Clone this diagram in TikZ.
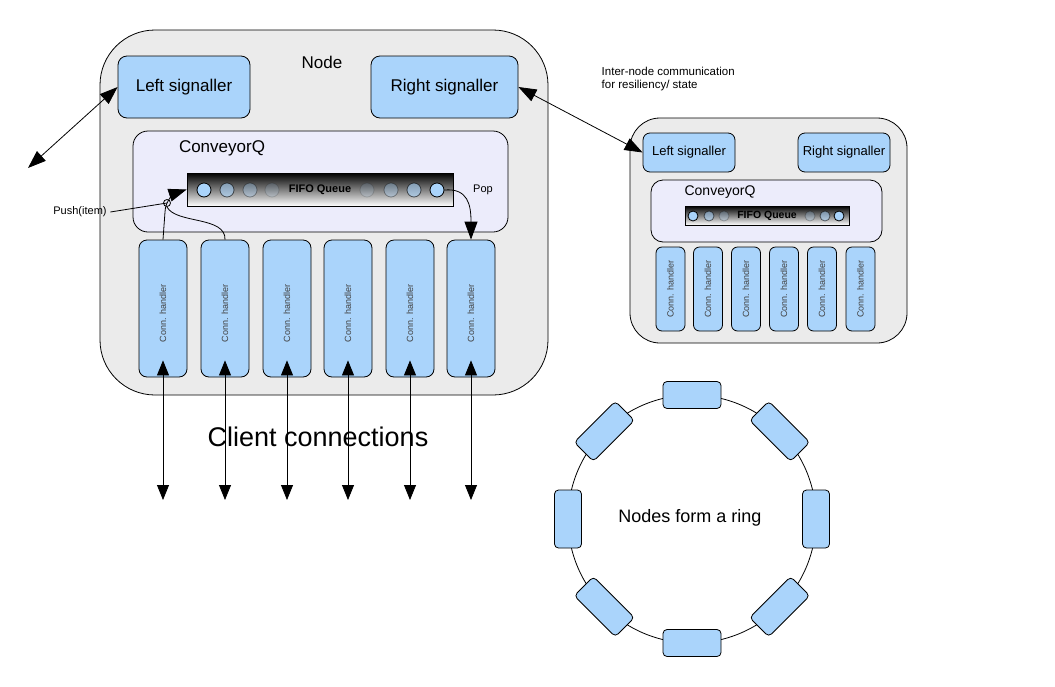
\documentclass[tikz,border=0pt]{standalone}
\usepackage{fontspec}
\setmainfont{Liberation Sans}
\usetikzlibrary{arrows.meta}
\definecolor{lblue}{RGB}{170, 212, 251}
\definecolor{lgray}{RGB}{235, 235, 235}
\definecolor{lviolet}{RGB}{236, 236, 251}

\begin{document}
\begin{tikzpicture}[x = 1pt, y = -1pt, line width = 0.8pt,
		>={Triangle[length=18pt, width=13pt]},
		box/.style = {draw, fill = lblue, rounded corners = 9pt, inner sep = 0pt},
		dot/.style = {circle, draw, fill = lblue, inner sep = 0pt},
		queue/.style = {draw, top color = black, bottom color = white, inner sep = 0pt},
		big/.style = {font = \fontsize{17}{20}\selectfont},
		mid/.style = {font = \fontsize{13}{15}\selectfont},
		small/.style = {font = \fontsize{11}{13}\selectfont},
		htext/.style = {rotate = 90, text = black!75, font = \fontsize{9}{11}\selectfont}]
			\useasboundingbox (0,0) rectangle (1055,686);

			\node (node) at (324,212.5) [draw, fill = lgray, rounded corners = 55pt, minimum width = 448pt, minimum height = 365pt] {};
			\node (title) at (322,62) [big] {Node};
			\node (ls) at (184,87) [box, minimum width = 132pt, minimum height = 62pt, big] {Left signaller};
			\node (rs) at (444.5,87) [box, minimum width = 147pt, minimum height = 62pt, big] {Right signaller};
			\node (cq) at (320.5,181.5) [draw, fill = lviolet, rounded corners = 15pt, minimum width = 375pt, minimum height = 101pt] {};
			\node (cqlbl) at (222,148) [big] {ConveyorQ};
			\node (fifo) at (320,189.5) [queue, minimum width = 266pt, minimum height = 33pt] {};
			\foreach \x/\o [count = \i] in {204/1, 227/0.6, 250/0.35, 272/0.15, 367/0.15, 391/0.35, 414/0.6, 437/1}
				\node (q\i) at (\x,190) [dot, minimum size = 14pt, opacity = \o] {};
			\node (fifolbl) at (320,190) [small, font = \fontsize{11}{13}\selectfont\bfseries] {FIFO Queue};
			\node (pop) at (483,190) [small] {Pop};
			\node (pushlbl) at (80,212) [small] {Push(item)};
			\foreach \x [count = \i] in {163,225,287,348,410,471} {
				\node (h\i) at (\x,308.5) [box, rounded corners = 8pt, minimum width = 48pt, minimum height = 137pt] {};
				\node at ([yshift=-5pt]h\i.center) [htext] {Conn. handler};
				\coordinate (c\i) at (\x,500);
				\draw[<->, >={Triangle[length=15pt, width=12pt]}] ([yshift=17pt]h\i.south) -- (c\i);
			}
			\node (clients) at (318,437) [font = \fontsize{27}{30}\selectfont] {Client connections};

			\coordinate (push) at (167,203);
			\draw[->] (h1.north) -- (165,212) .. controls (165,200) and (176,193) .. (fifo.west);
			\draw (h2.north) .. controls (226,216) and (176,224) .. (167,207);
			\draw (push) circle (3.5);
			\draw (pushlbl.east) -- (push);
			\draw[->] (q8.east) .. controls (468,188) and (471,205) .. (h6.north);

			\coordinate (away) at (28,168);
			\draw[<->] (ls.west) -- (away);

			\node (node2) at (768.5,230.5) [draw, fill = lgray, rounded corners = 30pt, minimum width = 277pt, minimum height = 225pt] {};
			\node (ls2) at (689,152.5) [box, rounded corners = 7pt, minimum width = 92pt, minimum height = 39pt, mid] {Left signaller};
			\node (rs2) at (844,152.5) [box, rounded corners = 7pt, minimum width = 92pt, minimum height = 39pt, mid] {Right signaller};
			\node (cq2) at (766.5,211) [draw, fill = lviolet, rounded corners = 12pt, minimum width = 231pt, minimum height = 62pt] {};
			\node (cqlbl2) at (720,192) [font = \fontsize{14}{16}\selectfont] {ConveyorQ};
			\node (fifo2) at (767,215.5) [queue, minimum width = 164pt, minimum height = 19pt] {};
			\foreach \x/\o [count = \i] in {693/1, 709/0.55, 724/0.25, 810/0.25, 825/0.55, 839/1}
				\node (r\i) at (\x,216) [dot, minimum size = 10pt, opacity = \o] {};
			\node (fifolbl2) at (767,216) [font = \fontsize{10.5}{12}\selectfont\bfseries] {FIFO Queue};
			\foreach \x [count = \i] in {670.5,708,746,784,822,860.5} {
				\node (k\i) at (\x,289) [box, rounded corners = 6pt, minimum width = 29pt, minimum height = 84pt] {};
				\node at (k\i) [htext] {Conn. handler};
			}
			\draw[<->] (rs.east) -- (ls2.west);
			\node (inter) at (598,79) [anchor = west, align = left, font = \fontsize{11.5}{13}\selectfont] {Inter-node communication\\for resiliency/ state};

			\coordinate (ring) at (692,519);
			\draw (ring) circle (124);
			\foreach \a [count = \i] in {0,45,...,315}
				\node (n\i) at ([shift={(\a:124)}]ring) [box, rounded corners = 4pt, rotate = -\a-90, minimum width = 58pt, minimum height = 27pt] {};
			\node (ringlbl) at (690,518) [big, font = \fontsize{18}{21}\selectfont] {Nodes form a ring};
\end{tikzpicture}
\end{document}
